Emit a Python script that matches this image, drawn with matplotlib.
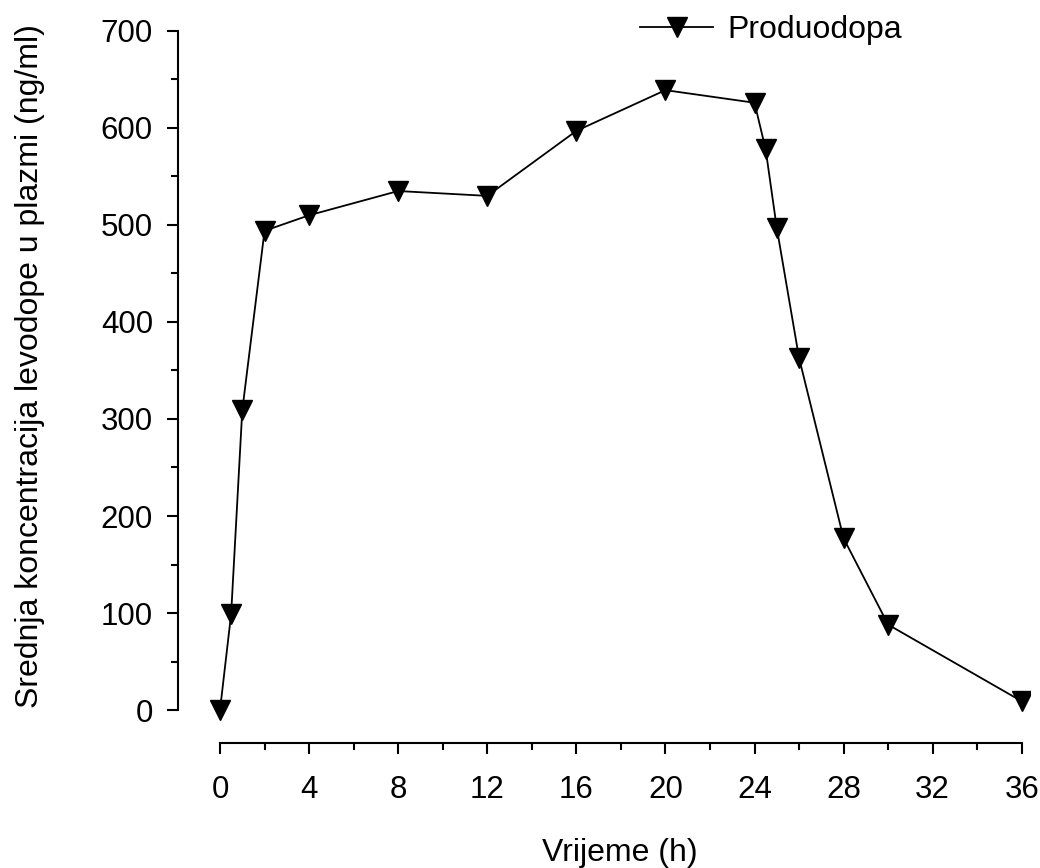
import numpy as np
import matplotlib
matplotlib.use('Agg')
import matplotlib.pyplot as plt
from matplotlib.ticker import MultipleLocator

plt.rcParams['font.family'] = ['Liberation Sans', 'DejaVu Sans']

# vrijeme (h) i srednja koncentracija levodope (ng/ml)
vrijeme = [0, 0.5, 1, 2, 4, 8, 12, 16, 20, 24, 24.5, 25, 26, 28, 30, 36]
koncentracija = [0, 99, 309, 494, 510, 535, 530, 597, 639, 626, 578, 497, 363, 177, 88, 9]
x_ticks = [0, 4, 8, 12, 16, 20, 24, 28, 32, 36]
y_ticks = [0, 100, 200, 300, 400, 500, 600, 700]

W, H = 1040, 868
fs = 23
fig = plt.figure(figsize=(W / 100, H / 100), dpi=100)
ax = fig.add_axes([178 / W, 125 / H, (1030 - 178) / W, (743 - 20) / H])

ax.plot(vrijeme, koncentracija, color='black', linewidth=1.3,
        marker='v', markersize=14, label='Produodopa')

ax.set_xlim(-1.886, 36.37)
ax.set_ylim(-34, 711.3)
ax.spines['top'].set_visible(False)
ax.spines['right'].set_visible(False)
ax.spines['left'].set_bounds(0, 700)
ax.spines['bottom'].set_bounds(0, 36)
for s in ['left', 'bottom']:
  ax.spines[s].set_linewidth(1.5)

ax.set_xticks(x_ticks)
ax.set_yticks(y_ticks)
ax.xaxis.set_minor_locator(MultipleLocator(2))
ax.yaxis.set_minor_locator(MultipleLocator(50))
ax.tick_params(which='major', length=8, width=1.5, labelsize=22.5)
ax.tick_params(which='minor', length=5, width=1.5)
ax.tick_params(axis='x', which='major', pad=15)
ax.tick_params(axis='y', which='major', pad=10)

fig.text(620 / W, 1 - 853 / H, 'Vrijeme (h)', fontsize=fs, ha='center', va='center')
fig.text(30 / W, 1 - 366 / H, 'Srednja koncentracija levodope u plazmi (ng/ml)',
         fontsize=fs, ha='center', va='center', rotation=90)

ax.legend(loc='center left', bbox_to_anchor=(640 / W, 1 - 30 / H),
          bbox_transform=fig.transFigure, frameon=False, fontsize=fs,
          handlelength=2.3, handletextpad=0.45, borderaxespad=0, borderpad=0)

fig.savefig('out.png', dpi=100)
